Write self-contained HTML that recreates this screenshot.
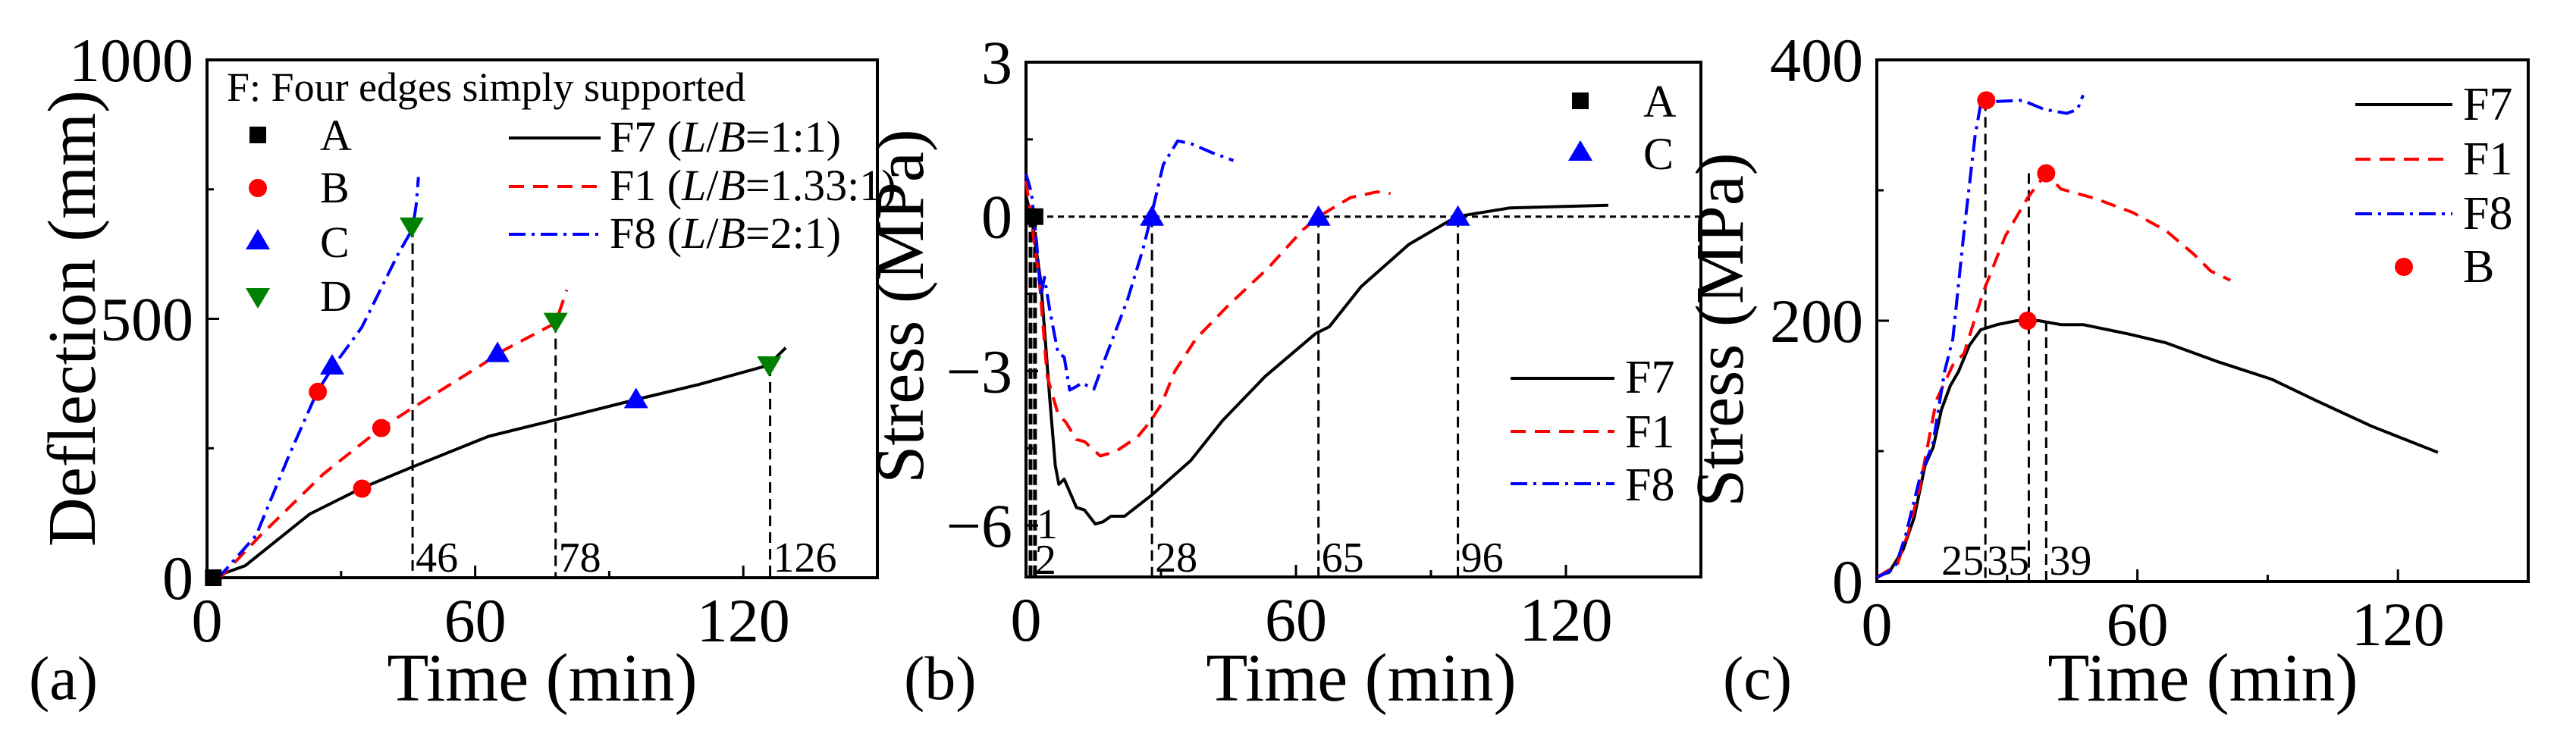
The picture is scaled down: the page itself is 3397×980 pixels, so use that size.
<!DOCTYPE html>
<html><head><meta charset="utf-8"><style>
html,body{margin:0;padding:0;background:#fff;}
svg, svg text{font-family:"Liberation Serif","Times New Roman",serif;}
</style></head><body>
<svg id="fig" width="3397" height="975" viewBox="0 0 3397 975" font-family="Liberation Serif, serif" xmlns="http://www.w3.org/2000/svg"></svg>
<script>
// ---------- Panel (a) data: deflection ----------
const aF7t=[0,1,8.5,23,34.6,46,63,78,96,110,125.5,129.5];
const aF7v=[0,0,23,123,173,214,273,305,344,373,410,444];
const aF1t=[2,3.5,12,26,39,46,62,65,78,80.5];
const aF1v=[0,5,82,200,289,328,414,433,492,556];
const aF8t=[2,3.5,11,18.4,24.7,28.4,34.6,42.7,46,46.8,47.3];
const aF8v=[0,9,82,237,360,410,483,624,674,720,774];
const aMarkA=[[1.4,0]];
const aMarkB=[[34.7,172],[39,289],[24.8,359]];
const aMarkC=[[96,345],[65,434],[28,410]];
const aMarkD=[[125.8,410],[78,494],[45.8,678]];
const aVlines=[46,78,126];
const aVlineTops=[678,494,410];
const aXticks=[0,60,120];
const aYticks=[0,500,1000];
// ---------- Panel (b) data: stress ----------
const bF7t=[0,1.2,3.3,5.3,6.5,7.3,8.5,11.2,13,15.4,17.1,18.9,21.9,27.8,36.6,43.7,53.2,64.4,67.4,74.5,85.1,95.7,107.6,129.4];
const bF7v=[0.4,0,-1.27,-3.55,-4.83,-5.2,-5.1,-5.65,-5.7,-5.97,-5.93,-5.82,-5.82,-5.42,-4.74,-3.96,-3.1,-2.27,-2.14,-1.36,-0.54,0,0.17,0.22];
const bF1t=[0,1.2,3,4.7,7.1,8.9,11.2,13,16.5,20,24.8,27.8,30.1,33.1,37.8,44.9,53.8,61.5,65,72.1,78,81];
const bF1v=[0.69,-0.08,-1.27,-3.1,-3.83,-4.0,-4.33,-4.37,-4.65,-4.56,-4.28,-3.96,-3.64,-3.0,-2.37,-1.73,-1.0,-0.26,0,0.37,0.48,0.45];
const bF8t=[0,1.2,2.4,3.3,4.1,5.3,7.1,8.5,9.7,11.2,12.4,15.1,17.7,22.5,26,27.8,30.5,33.7,36.6,41.4,46.1];
const bF8v=[0.83,0.47,-0.54,-1.54,-1.18,-1.82,-2.64,-2.73,-3.37,-3.3,-3.23,-3.35,-2.73,-1.63,-0.63,0,1.01,1.47,1.42,1.24,1.09];
const bMarkA=[[2,0]];
const bMarkC=[[28,0],[65,0],[96,0]];
const bVlines=[28,65,96];
const bVlinesA=[1,2];
const bXticks=[0,60,120];
const bYticks=[3,0,-3,-6];
// ---------- Panel (c) data: steel stress ----------
const cF7t=[0,2.8,6,8.6,11.1,13,14.9,16.9,18.8,21.3,23.9,27.7,32.2,37.3,42.4,47.5,57.7,66.6,78.1,91,101,114,129.2];
const cF7v=[4,7,24,49,89,103,132,150,161,181,193,197,200,200,197,197,190,183,169,155,139,119,99];
const cF1t=[0,4.7,7.3,9.8,13.7,17.5,20.1,24.5,29.6,34.7,37.3,39.2,42.4,50,58.9,66.6,73,76.9,81.4];
const cF1v=[3,13,38,71,139,166,175,222,265,294,306,312,301,294,283,269,251,238,231];
const cF8t=[0,4.1,6.6,9.8,13,15.6,17.5,20.1,22.6,23.9,27.1,33.5,38.6,43.7,46.2,47.5];
const cF8v=[3,10,35,78,107,161,186,269,341,366,368,369,362,359,362,373];
const cMarkB=[[25.2,369],[39,313],[34.7,200]];
const cVlines=[25,35,39];
const cXticks=[0,60,120];
const cYticks=[0,200,400];

const NS="http://www.w3.org/2000/svg";
const FONT='"Liberation Serif", "Times New Roman", serif';
const svg=document.getElementById('fig');
function mk(tag,attrs,parent){const e=document.createElementNS(NS,tag);for(const k in attrs)e.setAttribute(k,attrs[k]);(parent||svg).appendChild(e);return e;}
function txt(s,x,y,size,anchor,parent){const t=mk('text',{x:x,y:y,'font-size':size,'text-anchor':anchor||'start',fill:'#000'},parent);t.style.fontFamily=FONT;t.textContent=s;return t;}

function axes(P){
  const g=mk('g',{});
  
  
  P.g=g;
  const sx=t=>P.x0+(t-P.xmin)/(P.xmax-P.xmin)*(P.x1-P.x0);
  const sy=v=>P.y1-(v-P.ymin)/(P.ymax-P.ymin)*(P.y1-P.y0);
  P.sx=sx;P.sy=sy;
  const frame=mk('rect',{x:P.x0,y:P.y0,width:P.x1-P.x0,height:P.y1-P.y0,fill:'none',stroke:'#000','stroke-width':4},g);
  
  
  for(let t=P.xmin;t<=P.xmax;t+=30){
    const major=P.xt.includes(t);
    mk('line',{x1:sx(t),x2:sx(t),y1:P.y1,y2:P.y1-(major?16:9),stroke:'#000','stroke-width':3},g);
  }
  P.xt.forEach(t=>{const l=txt(String(t),sx(t),P.y1+84,82,'middle',g);
    
    });
  for(const v of P.yminor){mk('line',{x1:P.x0,x2:P.x0+9,y1:sy(v),y2:sy(v),stroke:'#000','stroke-width':3},g);}
  P.yt.forEach(v=>{mk('line',{x1:P.x0,x2:P.x0+16,y1:sy(v),y2:sy(v),stroke:'#000','stroke-width':3},g);
    const s=v<0?'\u2212'+Math.abs(v):String(v);
    const l=txt(s,P.x0-18,sy(v)+28,82,'end',g);
    
    });
  const xt=txt('Time (min)',P.xtitleX,924,90,'middle',g);
  
  
  const yt=txt(P.ytitle,0,0,90,'middle',g);
  yt.setAttribute('transform','translate('+P.ytitleX+','+P.ytitleY+') rotate(-90)');
  
  
  const pl=txt(P.label,P.labelX,922,82,'start',g);
  
  
}
const STY={F7:{stroke:'#000',dash:''},F1:{stroke:'#ff0000',dash:'20 12'},F8:{stroke:'#0000ff',dash:'22 8 4 8'}};
function series(P,ts,vs,key,name){
  const d=ts.map((t,i)=>(i?'L':'M')+P.sx(t).toFixed(1)+' '+P.sy(vs[i]).toFixed(1)).join(' ');
  const p=mk('path',{d:d,fill:'none',stroke:STY[key].stroke,'stroke-width':4,'stroke-dasharray':STY[key].dash,'stroke-linejoin':'round'},P.g);
  
  
}
function marker(type,x,y,parent){
  let e;
  if(type==='A')e=mk('rect',{x:x-11,y:y-11,width:22,height:22,fill:'#000'},parent);
  else if(type==='B')e=mk('circle',{cx:x,cy:y,r:12,fill:'#ff0000'},parent);
  else if(type==='C')e=mk('polygon',{points:(x)+','+(y-15)+' '+(x-16)+','+(y+12)+' '+(x+16)+','+(y+12),fill:'#0000ff'},parent);
  else e=mk('polygon',{points:(x)+','+(y+15)+' '+(x-16)+','+(y-12)+' '+(x+16)+','+(y-12),fill:'#008000'},parent);
  return e;
}
function marks(P,arr,type,name){arr.forEach(p=>{const m=marker(type,P.sx(p[0]),P.sy(p[1]),P.g);
  
  });}
function vline(P,t,vtop,name){const l=mk('line',{x1:P.sx(t),x2:P.sx(t),y1:P.sy(vtop),y2:P.y1,stroke:'#000','stroke-width':3,'stroke-dasharray':'14 8'},P.g);
  
  }
function vlabel(P,s,x,y,anchor){const l=txt(s,x,y,56,anchor||'start',P.g);
  
  }
function legLine(P,key,x1,x2,y){
  const l=mk('line',{x1:x1,x2:x2,y1:y,y2:y,stroke:STY[key].stroke,'stroke-width':4,'stroke-dasharray':STY[key].dash},P.g);
  
  
}

// ---- Panel a ----
const A={name:'panel-a',x0:273,x1:1157,y0:79,y1:762,xmin:0,xmax:150,ymin:0,ymax:1000,xt:aXticks,yt:aYticks,yminor:[250,750],
  ytitle:'Deflection (mm)',ytitleX:125,ytitleY:420,xtitleX:715,label:'(a)',labelX:38};
axes(A);
aVlines.forEach((t,i)=>vline(A,t,aVlineTops[i],'dashed-line-'+t));
series(A,aF7t,aF7v,'F7','series-f7');
series(A,aF1t,aF1v,'F1','series-f1');
series(A,aF8t,aF8v,'F8','series-f8');
marks(A,aMarkA,'A','marker-a');marks(A,aMarkB,'B','marker-b');marks(A,aMarkC,'C','marker-c');marks(A,aMarkD,'D','marker-d');
aVlines.forEach(t=>vlabel(A,String(t),A.sx(t)+4,754));
{const g=A.g;
 const t0=txt('F: Four edges simply supported',299,133,54,'start',g);
 
 
 const items=[['A',178,198],['B',248,267],['C',317,339],['D',392,410]];
 items.forEach(it=>{const m=marker(it[0],340,it[1],g);
   
   
   const l=txt(it[0],422,it[2],58,'start',g);
   
   });
 const ls=[['F7',182,200,'1:1'],['F1',246,264,'1.33:1'],['F8',309,327,'2:1']];
 ls.forEach(it=>{legLine(A,it[0],671,792,it[1]);
   const t=mk('text',{x:804,y:it[2],'font-size':58,fill:'#000'},g);
   t.style.fontFamily=FONT;
   
   
   t.innerHTML=it[0]+' (<tspan font-style="italic">L</tspan>/<tspan font-style="italic">B</tspan>='+it[3]+')';});
}
// ---- Panel b ----
const B={name:'panel-b',x0:1353,x1:2243,y0:82,y1:761,xmin:0,xmax:150,ymin:-7,ymax:3,xt:bXticks,yt:bYticks,yminor:[1.5,-1.5,-4.5],
  ytitle:'Stress (MPa)',ytitleX:1217,ytitleY:404,xtitleX:1795,label:'(b)',labelX:1192};
axes(B);
{const z=mk('line',{x1:B.x0,x2:B.x1,y1:B.sy(0),y2:B.sy(0),stroke:'#000','stroke-width':3,'stroke-dasharray':'8 6'},B.g);
 
 }
bVlines.forEach(t=>vline(B,t,0,'dashed-line-'+t));
bVlinesA.forEach(t=>{const l=mk('line',{x1:B.sx(t),x2:B.sx(t),y1:B.sy(0),y2:B.y1,stroke:'#000','stroke-width':5,'stroke-dasharray':'14 6'},B.g);
  
  });
series(B,bF7t,bF7v,'F7','series-f7');
series(B,bF1t,bF1v,'F1','series-f1');
series(B,bF8t,bF8v,'F8','series-f8');
marks(B,bMarkA,'A','marker-a');marks(B,bMarkC,'C','marker-c');
vlabel(B,'1',B.sx(1)+8,710);vlabel(B,'2',B.sx(1)+6,757);
bVlines.forEach(t=>vlabel(B,String(t),B.sx(t)+4,754));
{const g=B.g;
 const m1=marker('A',2084,133,g);
 const l1=txt('A',2167,154,60,'start',g);
 const m2=marker('C',2084,200,g);
 const l2=txt('C',2167,223,60,'start',g);
 [['F7',499,518],['F1',569,590],['F8',638,660]].forEach(it=>{legLine(B,it[0],1992,2129,it[1]);
   const t=txt(it[0],2143,it[2],62,'start',g);
   
   });
}
// ---- Panel c ----
const C={name:'panel-c',x0:2475,x1:3334,y0:79,y1:767,xmin:0,xmax:150,ymin:0,ymax:400,xt:cXticks,yt:cYticks,yminor:[100,300],
  ytitle:'Stress (MPa)',ytitleX:2298,ytitleY:435,xtitleX:2905,label:'(c)',labelX:2272};
axes(C);
cVlines.forEach((t,i)=>vline(C,t,cMarkB[i][1],'dashed-line-'+t));
series(C,cF7t,cF7v,'F7','series-f7');
series(C,cF1t,cF1v,'F1','series-f1');
series(C,cF8t,cF8v,'F8','series-f8');
marks(C,cMarkB,'B','marker-b');
vlabel(C,'25',C.sx(25)-2,758,'end');vlabel(C,'35',C.sx(25)+2,758);vlabel(C,'39',C.sx(39)+4,758);
{const g=C.g;
 [['F7',138,158],['F1',210,230],['F8',282,302]].forEach(it=>{legLine(C,it[0],3106,3234,it[1]);
   const t=txt(it[0],3248,it[2],62,'start',g);
   
   });
 const m=marker('B',3170,352,g);
 const l=txt('B',3248,372,62,'start',g);
}
</script>
</body></html>
